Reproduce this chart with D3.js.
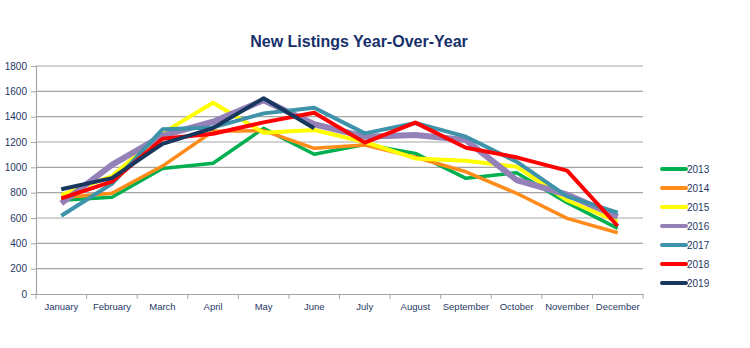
<!DOCTYPE html>
<html><head><meta charset="utf-8">
<script src="https://cdn.jsdelivr.net/npm/d3@7"></script>
<style>body{margin:0;background:#fff}</style>
</head><body>
<svg id="c" width="750" height="348"></svg>
<script>
const months = ["January","February","March","April","May","June","July","August","September","October","November","December"];
const yTicks = [0,200,400,600,800,1000,1200,1400,1600,1800];
const years = ["2013","2014","2015","2016","2017","2018","2019"];
const colors = ["#00B050","#FF8C1A","#FFFF00","#9481B8","#3E93AA","#FF0000","#17375E"];
const widths = [3.5,3.5,4,6,4,4,4];
const v2013 = [740,763,990,1032,1308,1103,1180,1110,913,958,720,518];
const v2014 = [760,795,1010,1285,1290,1150,1176,1080,965,795,597,484];
const v2015 = [780,930,1270,1510,1273,1295,1200,1070,1052,1005,740,571];
const v2016 = [715,1020,1250,1360,1530,1340,1242,1255,1215,900,785,610];
const v2017 = [618,870,1300,1315,1426,1471,1268,1350,1242,1045,770,642];
const v2018 = [755,887,1225,1265,1355,1431,1195,1353,1155,1079,974,537];
const v2019 = [827,915,1185,1310,1545,1308];
const series = [v2013,v2014,v2015,v2016,v2017,v2018,v2019];

const svg = d3.select("#c");
const L=36, R=643, T=66, B=294;
const x = d3.scaleBand().domain(months).range([L,R]);
const y = d3.scaleLinear().domain([0,1800]).range([B,T]);
const txt = "#1F3864";

svg.append("text").attr("x",359).attr("y",47).attr("text-anchor","middle")
  .attr("font-family","Liberation Sans, Arial, sans-serif").attr("font-weight","bold")
  .attr("font-size",16).attr("fill","#17306A").text("New Listings Year-Over-Year");

// grid
svg.append("g").selectAll("line").data(yTicks.slice(1)).join("line")
  .attr("x1",L).attr("x2",R).attr("y1",d=>y(d)).attr("y2",d=>y(d))
  .attr("stroke","#A6A6A6").attr("stroke-width",1.2);

const ya = svg.append("g").attr("transform",`translate(${L},0)`)
  .call(d3.axisLeft(y).tickValues(yTicks).tickFormat(d3.format("d")).tickSize(5).tickPadding(4));
ya.select(".domain").attr("stroke","#A6A6A6").attr("stroke-width",1.2);
ya.selectAll(".tick line").attr("stroke","#A6A6A6");
ya.selectAll("text").attr("fill",txt).attr("font-size",10).attr("font-family","Liberation Sans, Arial, sans-serif");

const xa = svg.append("g").attr("transform",`translate(0,${B})`)
  .call(d3.axisBottom(x).tickSize(0).tickPadding(9));
xa.select(".domain").attr("stroke","#A6A6A6").attr("stroke-width",1.2);
xa.selectAll("text").attr("fill",txt).attr("font-size",9.5).attr("font-family","Liberation Sans, Arial, sans-serif");
svg.append("g").selectAll("line").data(d3.range(13)).join("line")
  .attr("x1",i=>L+i*x.bandwidth()).attr("x2",i=>L+i*x.bandwidth())
  .attr("y1",B).attr("y2",B+5).attr("stroke","#A6A6A6");

const line = d3.line().x((d,i)=>x(months[i])+x.bandwidth()/2).y(d=>y(d));
series.forEach((s,k)=>{
  svg.append("path").datum(s).attr("d",line).attr("fill","none")
    .attr("stroke",colors[k]).attr("stroke-width",widths[k]).attr("stroke-linejoin","round");
});

const lg = svg.append("g");
years.forEach((yr,k)=>{
  const yy = 169 + k*19;
  lg.append("line").attr("x1",662).attr("x2",686).attr("y1",yy).attr("y2",yy)
    .attr("stroke",colors[k]).attr("stroke-width",4).attr("stroke-linecap","round");
  lg.append("text").attr("x",687).attr("y",yy+3.5).attr("fill",txt).attr("font-size",10)
    .attr("font-family","Liberation Sans, Arial, sans-serif").text(yr);
});
</script>
</body></html>
